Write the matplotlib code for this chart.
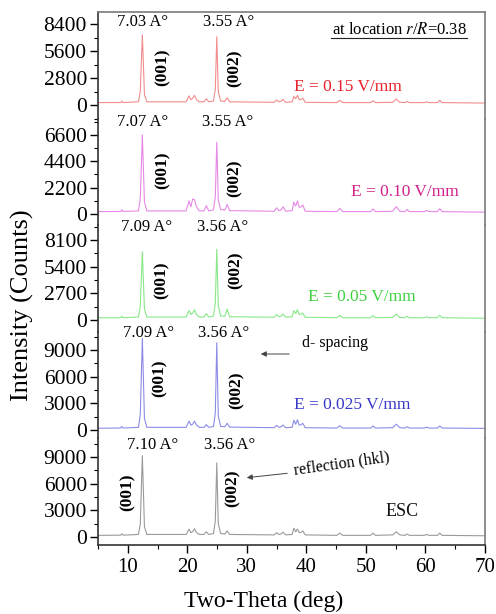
import matplotlib
matplotlib.use("Agg")
import matplotlib.pyplot as plt
from matplotlib.ticker import MultipleLocator

plt.rcParams['font.family'] = ['Liberation Serif', 'DejaVu Serif']
plt.rcParams['mathtext.fontset'] = 'stix'

# shared 2-theta sampling points (deg)
two_theta = [5.0, 8.8, 9.0, 9.2, 11.8, 12.1, 12.45, 12.8, 13.2, 19.8, 20.3, 20.6, 20.9, 21.2, 21.5,
             22.0, 22.8, 23.2, 23.6, 24.4, 24.7, 24.95, 25.2, 25.6, 26.3, 26.7, 27.1, 34.6, 35.0, 35.4,
             35.7, 36.1, 36.5, 37.6, 37.9, 38.2, 38.5, 38.8, 39.1, 39.4, 39.8, 45.1, 45.6, 46.1, 50.8,
             51.2, 51.6, 54.5, 55.1, 55.7, 56.6, 56.9, 57.3, 59.8, 60.2, 60.6, 62.0, 62.4, 62.8, 70.0]

# counts, top panel to bottom panel
e015 = [250, 260, 400, 260, 330, 1400, 7260, 1100, 330, 330, 950, 550, 700, 1000, 600, 330, 330, 650, 330, 420,
        1600, 7080, 1400, 420, 380, 750, 330, 280, 520, 330, 380, 580, 280, 330, 900, 650, 1000, 550, 600, 700,
        280, 250, 480, 250, 250, 450, 250, 280, 620, 280, 250, 380, 250, 250, 330, 250, 250, 480, 250, 200]
e010 = [200, 210, 350, 210, 260, 1300, 6600, 1000, 260, 260, 1100, 600, 1250, 1200, 650, 260, 260, 700, 260, 350,
        1400, 5990, 1200, 380, 330, 800, 280, 230, 520, 280, 330, 600, 230, 280, 1000, 650, 1100, 550, 600, 750,
        230, 200, 480, 200, 200, 420, 200, 230, 620, 230, 200, 380, 200, 200, 300, 200, 200, 450, 200, 150]
e005 = [220, 230, 380, 230, 300, 1400, 6915, 1100, 300, 300, 950, 550, 700, 1050, 600, 300, 300, 650, 300, 400,
        1700, 7160, 1500, 400, 380, 1100, 330, 280, 550, 330, 380, 600, 280, 330, 950, 650, 1050, 550, 600, 700,
        280, 230, 480, 230, 230, 450, 230, 260, 600, 260, 230, 380, 230, 230, 320, 230, 230, 480, 230, 180]
e0025 = [200, 220, 400, 220, 300, 1700, 10300, 1300, 300, 300, 1000, 550, 650, 1000, 600, 300, 300, 600, 300, 400,
         1900, 9820, 1600, 400, 380, 750, 330, 260, 520, 300, 350, 550, 260, 300, 1100, 650, 1150, 550, 600, 750,
         260, 220, 480, 220, 220, 460, 220, 260, 650, 260, 220, 380, 220, 220, 320, 220, 220, 460, 220, 180]
esc = [200, 220, 380, 220, 300, 1500, 9150, 1200, 300, 300, 900, 500, 600, 950, 550, 300, 300, 600, 300, 400,
       1800, 8340, 1500, 400, 350, 700, 300, 250, 500, 300, 350, 550, 250, 300, 1000, 600, 900, 500, 550, 700,
       250, 200, 450, 200, 200, 450, 200, 250, 600, 250, 200, 350, 200, 200, 300, 200, 200, 450, 200, 150]

series = [e015, e010, e005, e0025, esc]
line_colors = ['#f28c8c', '#e688e6', '#88e888', '#8c8ce6', '#9a9a9a']
ystep = [2800, 2200, 2700, 3000, 3000]
ylims = [(-1410, 9645), (-935, 7966), (-1195, 9598), (-945, 11047), (-885, 11093)]
field_labels = ['E = 0.15 V/mm', 'E = 0.10 V/mm', 'E = 0.05 V/mm', 'E = 0.025 V/mm', 'ESC']
field_colors = ['#e8202a', '#d0208a', '#40d040', '#3838c8', '#111111']
d001 = ['7.03 A°', '7.07 A°', '7.09 A°', '7.09 A°', '7.10 A°']
d002 = ['3.55 A°', '3.55 A°', '3.56 A°', '3.56 A°', '3.56 A°']

W, H = 496, 614
fig = plt.figure(figsize=(W / 100, H / 100), dpi=100)
left, right, top, bottom = 98 / W, 485 / W, 1 - 12 / H, 1 - 545 / H
ph = (top - bottom) / 5
frame = '#7a7a7a'

axes = []
for i in range(5):
    ax = fig.add_axes([left, top - (i + 1) * ph, right - left, ph])
    ax.plot(two_theta, series[i], color=line_colors[i], lw=0.8)
    ax.set_xlim(5, 70)
    ax.set_ylim(*ylims[i])
    ax.yaxis.set_minor_locator(MultipleLocator(ystep[i] / 2))
    ax.set_yticks([t for t in range(0, int(ylims[i][1]), ystep[i])])
    ax.tick_params(axis='y', which='major', direction='out', length=6, width=1, labelsize=15.5, pad=2)
    ax.tick_params(axis='y', which='minor', direction='out', length=3, width=0.8)
    for s in ax.spines.values():
        s.set_color(frame)
        s.set_linewidth(1.2)
    ax.spines['left'].set_color('#333333')
    if i > 0:
        ax.spines['top'].set_visible(False)
    if i < 4:
        ax.spines['bottom'].set_visible(False)
        ax.tick_params(axis='x', which='both', bottom=False, labelbottom=False)
    else:
        ax.spines['bottom'].set_color('#333333')
        ax.xaxis.set_major_locator(MultipleLocator(10))
        ax.xaxis.set_minor_locator(MultipleLocator(5))
        ax.tick_params(axis='x', which='major', direction='out', length=6, width=1, labelsize=15, pad=3)
        ax.tick_params(axis='x', which='minor', direction='out', length=3, width=0.8)
    ax.patch.set_alpha(0)
    axes.append(ax)


def fp(x, y):
    return x / W, 1 - y / H


# peak d-spacing labels and (hkl) labels, pixel positions
d1_pos = [(143, 22), (143, 122), (147, 227), (149, 333), (153, 445)]
d2_pos = [(229, 22), (228, 122), (223, 227), (224, 333), (230, 445)]
h1_pos = [(163, 67), (163, 170), (162, 280), (160, 378), (128, 492)]
h2_pos = [(235, 68), (235, 178), (236, 270), (237, 390), (233, 488)]
e_pos = [(348, 87), (405, 192), (362, 297), (352, 405), (402, 512)]

for i in range(5):
    fig.text(*fp(*d1_pos[i]), d001[i], fontsize=12, ha='center', va='center')
    fig.text(*fp(*d2_pos[i]), d002[i], fontsize=12, ha='center', va='center')
    fig.text(*fp(*h1_pos[i]), '(001)', fontsize=12.5, fontweight='bold', rotation=90, ha='center', va='center')
    fig.text(*fp(*h2_pos[i]), '(002)', fontsize=12.5, fontweight='bold', rotation=90, ha='center', va='center')
    fig.text(*fp(*e_pos[i]), field_labels[i], fontsize=12.5 if i < 4 else 13, color=field_colors[i],
             ha='center', va='center')

fig.text(*fp(399, 30), r'at location $\it{r}$/$\it{R}$=0.38', fontsize=12, ha='center', va='center')
fig.add_artist(plt.Line2D([331 / W, 467 / W], [1 - 38 / H, 1 - 38 / H], color='#222222', lw=0.8))

fig.text(*fp(335, 343), 'd- spacing', fontsize=11.5, ha='center', va='center')
plt.annotate('', xy=fp(258, 354), xytext=fp(292, 354), xycoords='figure fraction',
             arrowprops=dict(arrowstyle='-|>', color='#444444', lw=0.7, mutation_scale=8))

fig.text(*fp(342, 464), 'reflection (hkl)', fontsize=11.5, ha='center', va='center', rotation=8)
plt.annotate('', xy=fp(244, 478), xytext=fp(290, 473), xycoords='figure fraction',
             arrowprops=dict(arrowstyle='-|>', color='#444444', lw=0.7, mutation_scale=8))

fig.text(*fp(22, 305), 'Intensity (Counts)', fontsize=19, rotation=90, ha='center', va='center')
fig.text(*fp(264, 601), 'Two-Theta (deg)', fontsize=17, ha='center', va='center')

fig.savefig('out.png', dpi=100)
